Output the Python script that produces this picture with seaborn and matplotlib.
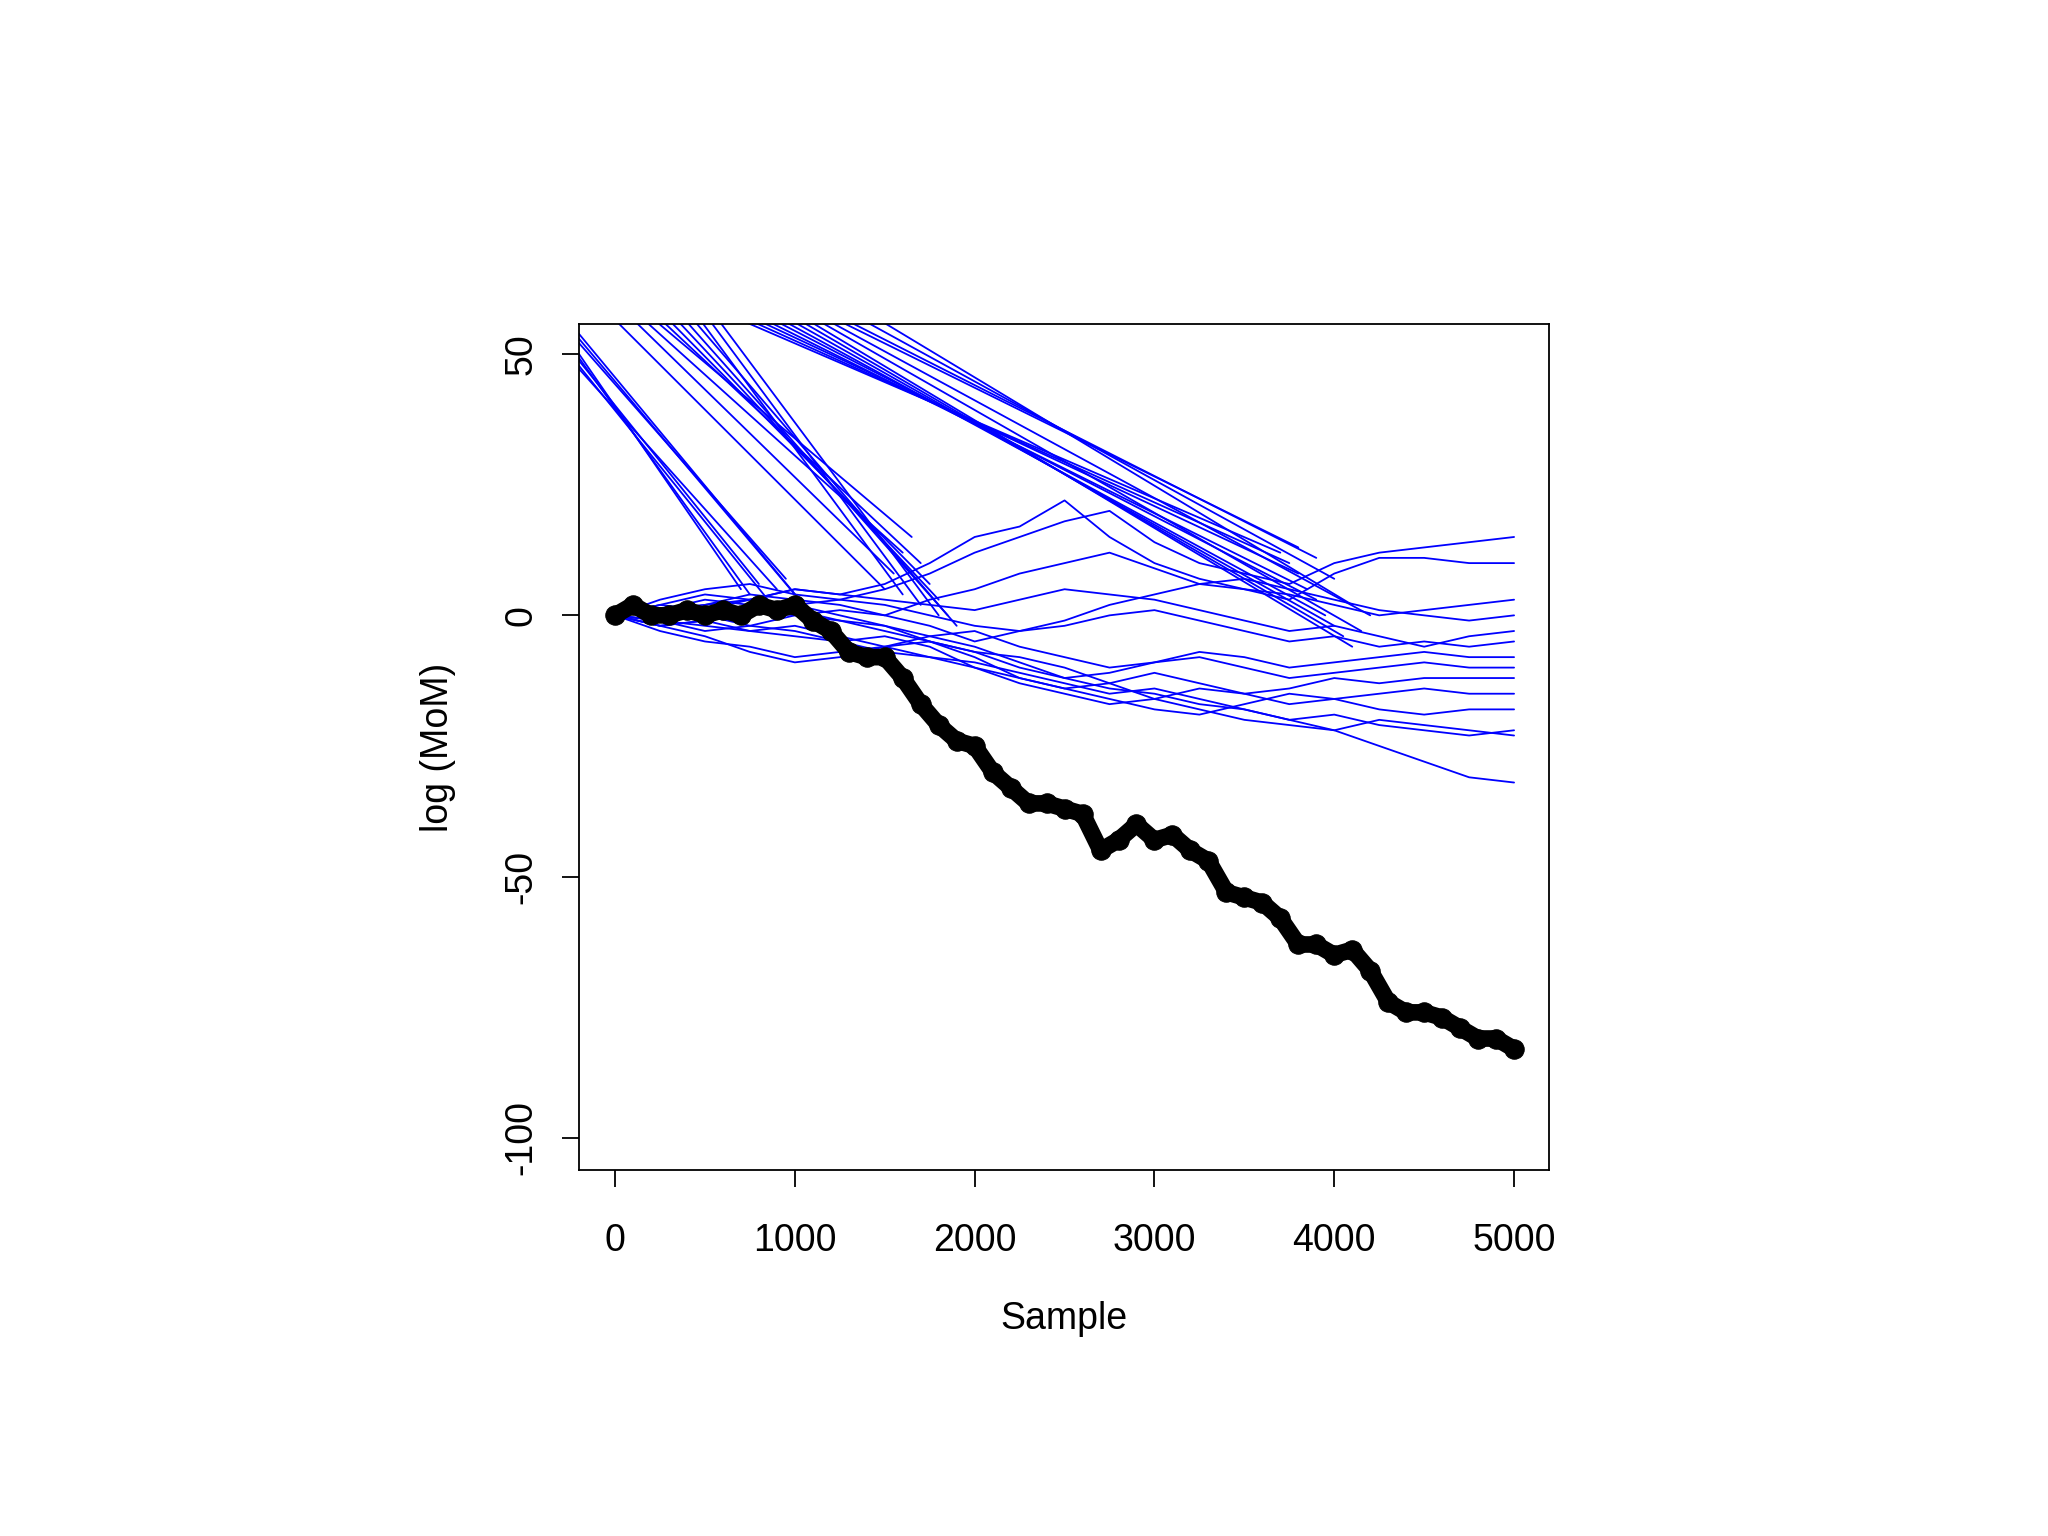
import numpy as np
import pandas as pd
import matplotlib
matplotlib.use("Agg")
import matplotlib.pyplot as plt
import seaborn as sns

# black trace: log(MoM) of the chosen chain
black_x = list(range(0, 5001, 100))
black_y = [0, 2, 0, 0, 1, 0, 1, 0, 2, 1, 2, -1, -3, -7, -8, -8, -12, -17, -21, -24,
           -25, -30, -33, -36, -36, -37, -38, -45, -43, -40, -43, -42, -45, -47, -53,
           -54, -55, -58, -63, -63, -65, -64, -68, -74, -76, -76, -77, -79, -81, -81, -83]

# blue traces sampled every 250
blue_x = list(range(0, 5001, 250))
blue_walks = [
    [0, 3, 5, 6, 4, 3, 5, 8, 12, 15, 18, 20, 14, 10, 8, 6, 10, 12, 13, 14, 15],
    [0, 2, 4, 3, 5, 4, 6, 10, 15, 17, 22, 15, 10, 7, 5, 3, 8, 11, 11, 10, 10],
    [0, 1, 2, 4, 3, 2, 0, 3, 5, 8, 10, 12, 9, 6, 5, 4, 2, 0, 1, 2, 3],
    [0, -2, -1, 1, 2, 3, 2, 0, -2, -3, -1, 2, 4, 6, 7, 5, 3, 1, 0, -1, 0],
    [0, -1, -3, -2, 0, 1, 0, -2, -5, -3, -2, 0, 1, -1, -3, -5, -4, -6, -5, -6, -5],
    [0, -3, -5, -6, -8, -7, -6, -4, -3, -6, -8, -10, -9, -7, -8, -10, -9, -8, -7, -8, -8],
    [0, 1, 3, 2, 1, -1, -3, -5, -7, -10, -12, -11, -9, -8, -10, -12, -11, -10, -9, -10, -10],
    [0, -2, -4, -7, -9, -8, -6, -5, -8, -12, -14, -13, -11, -13, -15, -14, -12, -13, -12, -12, -12],
    [0, 1, 0, -2, -3, -5, -4, -6, -10, -13, -15, -17, -16, -14, -15, -17, -16, -15, -14, -15, -15],
    [0, -1, -2, -3, -2, -4, -6, -8, -10, -12, -14, -16, -18, -19, -17, -15, -16, -18, -19, -18, -18],
    [0, 2, 1, 3, 2, 0, -2, -4, -6, -9, -12, -14, -15, -17, -18, -20, -19, -21, -22, -23, -22],
    [0, -1, 0, 1, 0, -1, -2, -5, -7, -8, -10, -13, -16, -18, -20, -21, -22, -20, -21, -22, -23],
    [0, -2, -1, -3, -4, -5, -7, -8, -9, -11, -13, -15, -14, -16, -18, -20, -22, -25, -28, -31, -32],
    [0, 1, 2, 3, 5, 4, 3, 2, 1, 3, 5, 4, 3, 1, -1, -3, -2, -4, -6, -4, -3],
]

# straight segments from the upper left down into the traces
seg_x0 = [-300, -300, -300, -300, -300, -300, -300, -300,
          -100, 0, 50, 100, 150, 200, 250, 300, 350, 400, 450, 500,
          600, 650, 700, 750, 800, 850, 900, 950, 1000, 1050, 1100, 1150, 1200, 1300, 1400]
seg_y0 = [55, 54, 53, 52, 51, 56, 57, 58,
          60, 60, 60, 60, 60, 60, 60, 60, 60, 60, 60, 60,
          58, 58, 58, 58, 58, 58, 58, 58, 58, 58, 58, 58, 58, 58, 58]
seg_x1 = [700, 750, 800, 850, 900, 950, 1000, 1050,
          1500, 1550, 1600, 1650, 1700, 1750, 1800, 1850, 1900, 1600, 1700, 1800,
          3700, 3750, 3800, 3850, 3900, 3950, 4000, 4050, 4100, 4150, 4200, 3800, 3900, 4000, 4100]
seg_y1 = [5, 4, 6, 3, 5, 7, 4, 2,
          5, 8, 12, 15, 10, 6, 3, 0, -2, 4, 2, 0,
          12, 10, 8, 5, 3, 0, -2, -4, -6, -3, 0, 13, 11, 7, 2]

rows = []
for i, w in enumerate(blue_walks):
    for x, y in zip(blue_x, w):
        rows.append({"run": f"w{i}", "Sample": x, "val": y})
for i in range(len(seg_x0)):
    rows.append({"run": f"s{i}", "Sample": seg_x0[i], "val": seg_y0[i]})
    rows.append({"run": f"s{i}", "Sample": seg_x1[i], "val": seg_y1[i]})
blue = pd.DataFrame(rows)
black = pd.DataFrame({"Sample": black_x, "val": black_y})

sns.set_style("ticks")
plt.rcParams['font.family'] = ['Liberation Sans', 'DejaVu Sans']
plt.rcParams['text.color'] = 'black'
plt.rcParams['axes.labelcolor'] = 'black'
plt.rcParams['xtick.color'] = 'black'
plt.rcParams['ytick.color'] = 'black'
fig = plt.figure(figsize=(20.48, 15.36), dpi=100)
ax = fig.add_axes([0.2825, 0.238, 0.474, 0.551])

sns.lineplot(data=blue, x="Sample", y="val", units="run", estimator=None,
             color="#0000ff", linewidth=1.3, ax=ax, sort=False)
sns.lineplot(data=black, x="Sample", y="val", color="black", linewidth=12,
             marker="o", markersize=14, markeredgecolor="black", ax=ax)

ax.set_xlim(-203, 5196)
ax.set_ylim(-106.25, 55.75)
ax.set_xticks([0, 1000, 2000, 3000, 4000, 5000])
ax.set_yticks([-100, -50, 0, 50])
ax.set_yticklabels(["-100", "-50", "0", "50"], rotation=90, va="center")
ax.tick_params(labelsize=27, length=12, width=1.3, pad=16)
ax.tick_params(axis="x", pad=26)
ax.set_xlabel("Sample", fontsize=27, labelpad=30)
ax.set_ylabel("log (MoM)", fontsize=27, labelpad=34)
for s in ax.spines.values():
    s.set_visible(True)
    s.set_color("black")
    s.set_linewidth(1.3)

fig.savefig("out.png", dpi=100, facecolor="w")
